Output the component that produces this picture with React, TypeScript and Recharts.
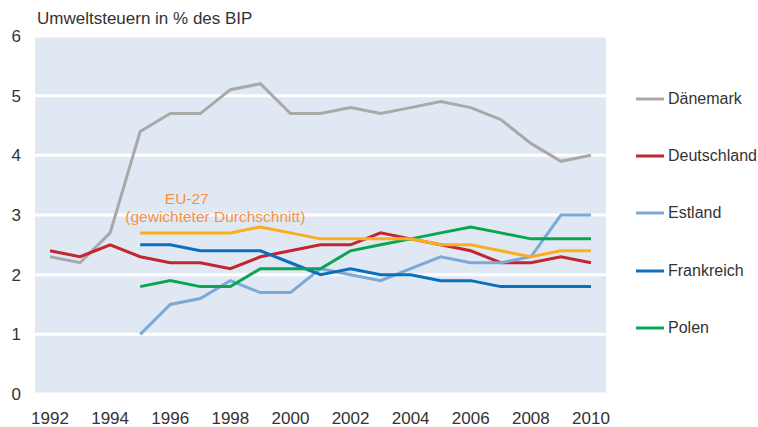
import React from 'react';
import { LineChart, Line, XAxis, YAxis, CartesianGrid, Legend, ReferenceDot } from 'recharts';

const years = [1992, 1993, 1994, 1995, 1996, 1997, 1998, 1999, 2000, 2001, 2002, 2003, 2004, 2005, 2006, 2007, 2008, 2009, 2010];
const daenemark = [2.3, 2.2, 2.7, 4.4, 4.7, 4.7, 5.1, 5.2, 4.7, 4.7, 4.8, 4.7, 4.8, 4.9, 4.8, 4.6, 4.2, 3.9, 4.0];
const deutschland = [2.4, 2.3, 2.5, 2.3, 2.2, 2.2, 2.1, 2.3, 2.4, 2.5, 2.5, 2.7, 2.6, 2.5, 2.4, 2.2, 2.2, 2.3, 2.2];
const estland = [null, null, null, 1.0, 1.5, 1.6, 1.9, 1.7, 1.7, 2.1, 2.0, 1.9, 2.1, 2.3, 2.2, 2.2, 2.3, 3.0, 3.0];
const frankreich = [null, null, null, 2.5, 2.5, 2.4, 2.4, 2.4, 2.2, 2.0, 2.1, 2.0, 2.0, 1.9, 1.9, 1.8, 1.8, 1.8, 1.8];
const polen = [null, null, null, 1.8, 1.9, 1.8, 1.8, 2.1, 2.1, 2.1, 2.4, 2.5, 2.6, 2.7, 2.8, 2.7, 2.6, 2.6, 2.6];
const eu27 = [null, null, null, 2.7, 2.7, 2.7, 2.7, 2.8, 2.7, 2.6, 2.6, 2.6, 2.6, 2.5, 2.5, 2.4, 2.3, 2.4, 2.4];

const yTicks = [0, 1, 2, 3, 4, 5, 6];
const xLabelTicks = [1992, 1994, 1996, 1998, 2000, 2002, 2004, 2006, 2008, 2010];
const xBoundaryTicks = [...years.map((y) => y - 0.5), 2010.5];

const title = 'Umweltsteuern in % des BIP';
const euLabel1 = 'EU-27';
const euLabel2 = '(gewichteter Durchschnitt)';

const data = years.map((year, i) => ({
  year,
  Dänemark: daenemark[i],
  Deutschland: deutschland[i],
  Estland: estland[i],
  Frankreich: frankreich[i],
  Polen: polen[i],
  EU27: eu27[i],
}));

const series = [
  { key: 'Dänemark', color: '#a9a9a9' },
  { key: 'Deutschland', color: '#c1272d' },
  { key: 'Estland', color: '#7caad6' },
  { key: 'Frankreich', color: '#0b6fbe' },
  { key: 'Polen', color: '#0aa64f' },
];

const FONT = '"Liberation Sans", Arial, sans-serif';

const renderLegend = (props: any) => {
  const payload = (props.payload || []).filter((p: any) => p.type !== 'none');
  const ordered = series
    .map((s) => payload.find((p: any) => p.value === s.key))
    .filter(Boolean);
  return (
    <div style={{ fontFamily: FONT }}>
      {ordered.map((p: any) => (
        <div key={p.value} style={{ height: 57.3, display: 'flex', alignItems: 'center' }}>
          <svg width={32} height={4} style={{ display: 'block' }}>
            <line x1={0} y1={2} x2={28} y2={2} stroke={p.color} strokeWidth={3} />
          </svg>
          <span style={{ fontSize: 16, color: '#333', whiteSpace: 'nowrap' }}>{p.value}</span>
        </div>
      ))}
    </div>
  );
};

export default function App() {
  return (
    <div style={{ position: 'absolute', left: 0, top: 0, width: 758, height: 427, background: '#fff' }}>
      <div
        style={{
          position: 'absolute',
          left: 37,
          top: 9,
          fontFamily: FONT,
          fontSize: 17,
          lineHeight: '20px',
          color: '#333',
          whiteSpace: 'nowrap',
        }}
      >
        {title}
      </div>
      <LineChart
        width={758}
        height={427}
        data={data}
        margin={{ top: 36, right: 152, bottom: 0, left: 0 }}
        style={{ fontFamily: FONT }}
      >
        <CartesianGrid
          vertical={false}
          fill="#e0e8f4"
          stroke="#ffffff"
          strokeWidth={3}
          xAxisId="t"
        />
        <XAxis
          xAxisId="t"
          dataKey="year"
          type="number"
          domain={[1991.5, 2010.5]}
          ticks={xBoundaryTicks}
          tick={false}
          tickSize={6}
          height={0}
          axisLine={{ stroke: '#9fbde0', strokeWidth: 1.5 }}
          tickLine={{ stroke: '#9fbde0', strokeWidth: 1.5 }}
          interval={0}
        />
        <XAxis
          xAxisId="l"
          dataKey="year"
          type="number"
          domain={[1991.5, 2010.5]}
          ticks={xLabelTicks}
          axisLine={false}
          tickLine={false}
          tickSize={0}
          tickMargin={18}
          height={33}
          interval={0}
          tick={{ fill: '#333', fontSize: 17 }}
        />
        <YAxis
          width={35}
          domain={[0, 6]}
          ticks={yTicks}
          axisLine={false}
          tickLine={false}
          tickSize={0}
          tickMargin={14}
          interval={0}
          tick={{ fill: '#333', fontSize: 17 }}
        />
        {series.map((s) => (
          <Line
            key={s.key}
            xAxisId="t"
            dataKey={s.key}
            name={s.key}
            stroke={s.color}
            strokeWidth={3}
            dot={false}
            activeDot={false}
            isAnimationActive={false}
          />
        ))}
        <Line
          xAxisId="t"
          dataKey="EU27"
          name="EU-27"
          stroke="#fbad1f"
          strokeWidth={3}
          dot={false}
          activeDot={false}
          legendType="none"
          isAnimationActive={false}
        />
        <ReferenceDot
          xAxisId="t"
          x={1996.55}
          y={3.27}
          r={0}
          fill="none"
          stroke="none"
          label={{ value: euLabel1, position: 'center', fill: '#f5923e', fontSize: 15.5 }}
        />
        <ReferenceDot
          xAxisId="t"
          x={1997.5}
          y={2.97}
          r={0}
          fill="none"
          stroke="none"
          label={{ value: euLabel2, position: 'center', fill: '#f5923e', fontSize: 15.5 }}
        />
        <Legend
          layout="vertical"
          align="center"
          verticalAlign="middle"
          content={renderLegend}
          wrapperStyle={{ left: 636, top: 70, width: 122 }}
        />
      </LineChart>
    </div>
  );
}
